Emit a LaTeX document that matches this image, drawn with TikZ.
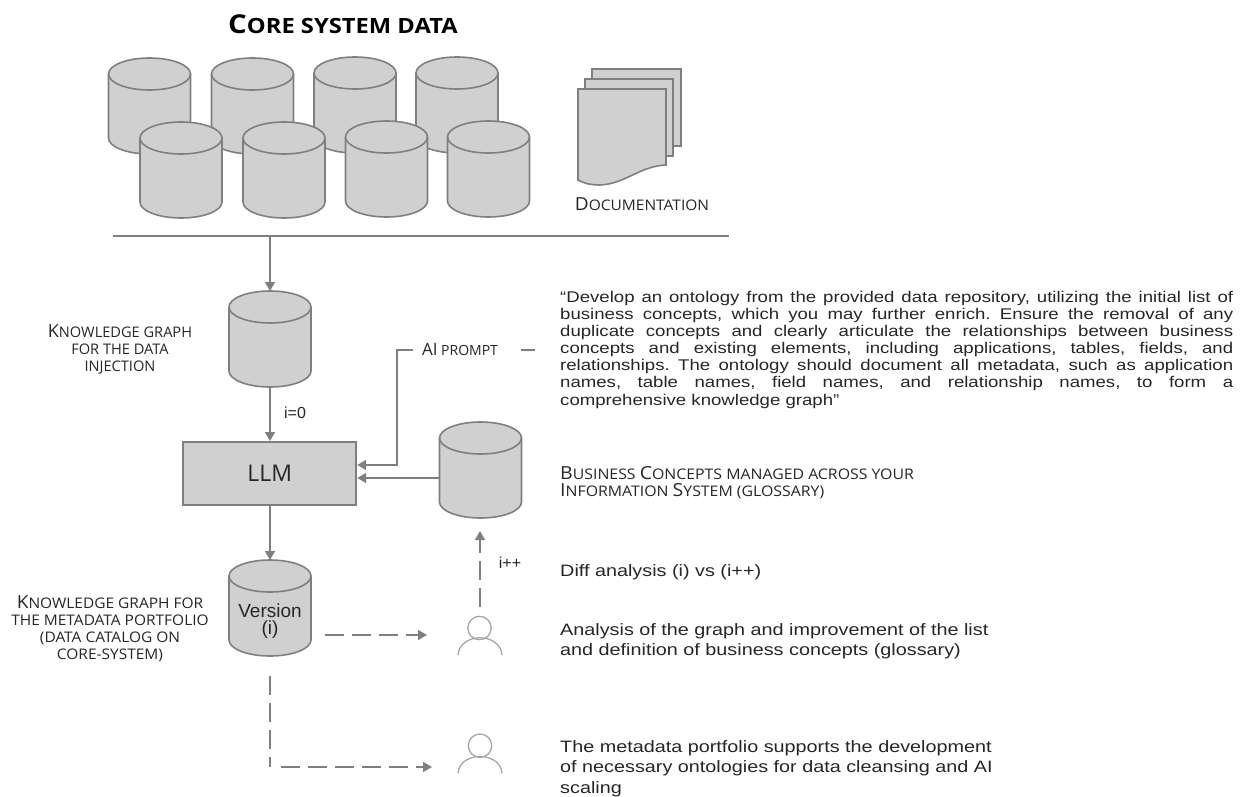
\documentclass[tikz,border=0pt]{standalone}
\usepackage{fontspec}
\setmainfont{Liberation Sans}
\newfontfamily\capsfont{Open Sans}
\newfontfamily\capsw[FakeStretch=1.06]{Open Sans}
\newfontfamily\capsx[FakeStretch=1.085]{Open Sans}
\newfontfamily\titlefont[FakeStretch=1.13]{Open Sans}
\newfontfamily\parafont[FakeStretch=1.2]{Liberation Sans}
\newfontfamily\bodyfont[FakeStretch=1.2]{Liberation Sans}
\usetikzlibrary{arrows.meta,calc}
\definecolor{cfill}{HTML}{D0D0D0}
\definecolor{cline}{HTML}{7F7F7F}
\definecolor{ctext}{HTML}{262626}
\newcommand{\sC}[2]{{\fontsize{18}{17}\selectfont #1}{\fontsize{14.6}{17}\selectfont #2}}
\newcommand{\jl}[1]{\hbox to 673pt{#1}}
\tikzset{
 x=1pt,y=-1pt,
 dbbox/.style={minimum width=82pt,minimum height=96pt,inner sep=0pt,outer sep=0pt},
 dbline/.style={draw=cline,line width=1.6pt,fill=cfill,line join=round},
 conn/.style={draw=cline,line width=1.6pt},
 arr/.style={conn,-{Triangle[length=9pt,width=10pt]}},
 dsh/.style={conn,dash pattern=on 19pt off 8pt},
 lab/.style={font=\capsfont\fontsize{14.6}{17}\selectfont,text=ctext,align=center,inner sep=0pt},
 para/.style={font=\parafont\fontsize{15.5}{17.1}\selectfont\frenchspacing,text=ctext,inner sep=0pt,anchor=north west,align=left},
 body/.style={font=\bodyfont\fontsize{16.5}{20.6}\selectfont,text=ctext,inner sep=0pt,anchor=north west,align=left},
 sheet/.style={draw=cline,line width=1.6pt,fill=cfill},
 person/.style={draw=black!35,line width=1.3pt}
}
\newcommand{\dbcyl}[3]{%
  \node[dbbox] (#1) at (#2,#3) {};
  \draw[dbline] ($(#1.north west)+(0,16)$) -- ($(#1.south west)+(0,-16)$)
    arc[start angle=180,end angle=360,x radius=41pt,y radius=16pt]
    -- ($(#1.north east)+(0,16)$)
    arc[start angle=0,end angle=180,x radius=41pt,y radius=16pt] -- cycle;
  \draw[conn] ($(#1.north west)+(0,16)$)
    arc[start angle=180,end angle=360,x radius=41pt,y radius=16pt];
}
\begin{document}
\begin{tikzpicture}
\useasboundingbox (0,0) rectangle (1244,797);
\node[lab,font=\titlefont\bfseries,text=black] (title) at (343,24) {{\fontsize{26}{26}\selectfont C}{\fontsize{21}{26}\selectfont ORE SYSTEM DATA}};
\dbcyl{a}{149.5}{106}
\dbcyl{b}{252.5}{106}
\dbcyl{c}{355}{105}
\dbcyl{d}{457}{105}
\dbcyl{e}{181}{170}
\dbcyl{f}{284}{170}
\dbcyl{g}{386.5}{169}
\dbcyl{h}{488.5}{169}
% documents
\path[sheet] (592,69) rectangle (681,146);
\path[sheet] (585,79) rectangle (673,156);
\path[sheet] (578,89) -- (666,89) -- (666,165) .. controls (640,166) and (625,184) .. (600,185) .. controls (590,185) and (583,183) .. (578,180) -- cycle;
\node[lab,font=\capsw\fontsize{14.6}{17}\selectfont] (doc) at (642,204) {\sC{D}{OCUMENTATION}};
\coordinate (barl) at (113,236); \coordinate (barr) at (729,236); \coordinate (bart) at (270,236);
\draw[conn] (barl) -- (barr);
\dbcyl{kg}{270}{339}
\node[lab] (kgl) at (120,349.5) {\sC{K}{NOWLEDGE GRAPH}\\FOR THE DATA\\INJECTION};
\draw[arr] (bart) -- (kg.north);
\node[draw=cline,line width=2pt,fill=cfill,minimum width=173pt,minimum height=63pt,inner sep=0pt,font=\capsfont\fontsize{23}{23}\selectfont,text=ctext] (llm) at (269.7,473.5) {LLM};
\draw[arr] (kg.south) -- (kg.south |- llm.north);
\node[inner sep=0pt,text=ctext,font=\fontsize{16}{16}\selectfont] (i0) at (295,413) {i=0};
\dbcyl{gl}{480.5}{470}
\draw[arr] (gl.west |- 0,478) -- (llm.east |- 0,478);
\node[lab,font=\capsfont\fontsize{14}{17}\selectfont] (prompt) at (460,349) {{\fontsize{17}{17}\selectfont AI}{\fontsize{14}{17}\selectfont\ PROMPT}};
\coordinate (pl) at (413,350); \coordinate (pc) at (397,350); \coordinate (pr1) at (521,350); \coordinate (pr2) at (535,350);
\draw[arr] (pl) -- (pc) |- (llm.east |- 0,465);
\draw[conn] (pr1) -- (pr2);
\dbcyl{ver}{270}{608}
\node[inner sep=0pt,align=center,font=\fontsize{19}{17}\selectfont,text=ctext] (verl) at (270,621) {Version\\(i)};
\draw[arr] (ver.north |- llm.south) -- (ver.north);
\node[lab,font=\capsw\fontsize{14.6}{17}\selectfont] (verlab) at (110,629) {\sC{K}{NOWLEDGE GRAPH FOR}\\THE METADATA PORTFOLIO\\(DATA CATALOG ON\\CORE-SYSTEM)};
% persons
\draw[person] (479.5,628) circle (11.7);
\draw[person] (458,655) .. controls (460,632) and (500,632) .. (502,655);
\draw[person] (480,745.7) circle (11.7);
\draw[person] (458,773) .. controls (460,751) and (500,751) .. (502,773);
\coordinate (d1) at (325,635); \coordinate (d2) at (427,635); \coordinate (d1b) at (413,635);
\draw[dsh] (d1) -- (d1b);
\draw[arr] (d1b) -- (d2);
\coordinate (d3) at (270,676); \coordinate (d4) at (270,767); \coordinate (d5) at (432,767); \coordinate (d4b) at (281,767); \coordinate (d5b) at (418,767);
\draw[dsh] (d3) -- (d4);
\draw[dsh] (d4b) -- (d5b);
\draw[arr] (d5b) -- (d5);
\coordinate (u1) at (480,607); \coordinate (u2) at (480,545); \coordinate (u3) at (480,531);
\draw[dsh] (u1) -- (u2);
\draw[arr] (u2) -- (u3);
\node[inner sep=0pt,text=ctext,font=\fontsize{16}{16}\selectfont] (ipp) at (510,563) {i++};
% texts
\node[para] (pt) at (560,291) {\jl{“Develop an ontology from the provided data repository, utilizing the initial list of}\\
\jl{business concepts, which you may further enrich. Ensure the removal of any}\\
\jl{duplicate concepts and clearly articulate the relationships between business}\\
\jl{concepts and existing elements, including applications, tables, fields, and}\\
\jl{relationships. The ontology should document all metadata, such as application}\\
\jl{names, table names, field names, and relationship names, to form a}\\
comprehensive knowledge graph”};
\node[lab,font=\capsx\fontsize{14.6}{17}\selectfont,align=left,anchor=north west] (bc) at (560,466) {\sC{B}{USINESS}\ \sC{C}{ONCEPTS MANAGED ACROSS YOUR}\\\sC{I}{NFORMATION}\ \sC{S}{YSTEM (GLOSSARY)}};
\node[body] (diff) at (560,564) {Diff analysis (i) vs (i++)};
\node[body] (an) at (560,623) {Analysis of the graph and improvement of the list\\and definition of business concepts (glossary)};
\node[body] (mp) at (560,740) {The metadata portfolio supports the development\\of necessary ontologies for data cleansing and AI\\scaling};
\end{tikzpicture}
\end{document}
